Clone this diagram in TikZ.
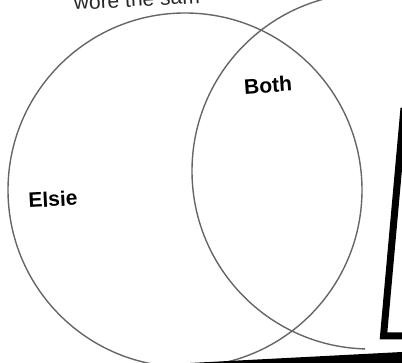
\documentclass[tikz,border=0pt]{standalone}
\usepackage{fontspec}
\setmainfont{Liberation Sans}
\tikzset{ring/.style={line width=1.4pt, black!60}}
\tikzset{lbl/.style={font=\fontsize{21}{23}\selectfont\bfseries, inner sep=0pt}}
\begin{document}
\begin{tikzpicture}[x=1pt,y=-1pt]
	\useasboundingbox (0,0) rectangle (402,363);
	
	\begin{scope}
	\clip (0,0) -- (412,0) -- (402,110) -- (382,338) -- (365,338) -- (365,363) -- (0,363) -- cycle;
	\draw[ring] (185,190) circle (177pt);
	\draw[ring] (370,171) circle (178pt);
	\end{scope}
	
	\node(title)[anchor=base west, inner sep=0pt, rotate=3, text=black!85, font=\fontsize{21}{23}\selectfont] at (74,10){wore the sam};
	\node(elsie)[lbl, rotate=3] at (53,199){Elsie};
	\node(both)[lbl, rotate=4] at (268,85){Both};
	
	\draw[line width=7pt, line join=miter] (404,108) -- (383.5,336) -- (402,336);
	\fill (190,363) -- (402,352) -- (402,363) -- cycle;
\end{tikzpicture}
\end{document}
